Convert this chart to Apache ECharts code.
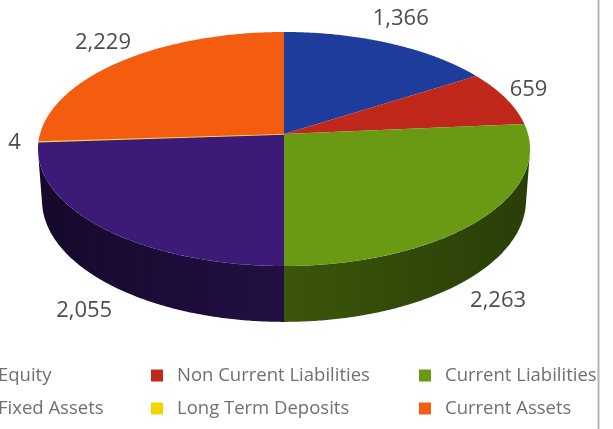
<!DOCTYPE html>
<html>
<head>
<meta charset="utf-8">
<script src="https://cdn.jsdelivr.net/npm/echarts@6/dist/echarts.min.js"></script>
<style>
  html, body { margin: 0; padding: 0; background: #fff; }
  #chart { width: 613px; height: 429px; }
</style>
</head>
<body>
<div id="chart"></div>
<script>
// Balance sheet split (figures in thousands)
const categories = ['Equity', 'Non Current Liabilities', 'Current Liabilities',
                    'Fixed Assets', 'Long Term Deposits', 'Current Assets'];
const values = [1366, 659, 2263, 2055, 4, 2229];
const colors = ['#1e3c9c', '#c0281c', '#6a9a14', '#3c1a78', '#f5d400', '#f45c10'];

// Legend columns (names only)
const legendColumns = [
  ['Equity', 'Fixed Assets'],
  ['Non Current Liabilities', 'Long Term Deposits'],
  ['Current Liabilities', 'Current Assets']
];

// Perspective camera for the tilted pie
const CX = 284, CY = 134;       // projected pie centre
const S = 244;                  // half-width of the disc at centre depth
const K = 0.1452;               // radius / camera distance
const TILT = 28.14 * Math.PI / 180;
const SIN_T = Math.sin(TILT), COS_T = Math.cos(TILT);
const DEPTH = 0.241;            // thickness of the disc relative to radius

function project(theta, rho, eta) {
  const u = rho * Math.sin(theta);
  const v = rho * Math.cos(theta);
  const yc = v * SIN_T + eta * COS_T;
  const z = 1 + K * (v * COS_T - eta * SIN_T);
  return [CX + S * u / z, CY - S * yc / z];
}

const total = values.reduce((a, b) => a + b, 0);
// the outer wall faces the camera where cos(theta) < -K/cos(tilt)
const wallFrom = Math.acos(-K / COS_T);
const wallTo = 2 * Math.PI - wallFrom;

function shade(hex, f) {
  const n = parseInt(hex.slice(1), 16);
  const r = Math.round(((n >> 16) & 255) * f);
  const g = Math.round(((n >> 8) & 255) * f);
  const b = Math.round((n & 255) * f);
  return 'rgb(' + r + ',' + g + ',' + b + ')';
}

function arc(a, b, eta) {
  const pts = [];
  const steps = Math.max(2, Math.ceil((b - a) / (Math.PI / 360)));
  for (let s = 0; s <= steps; s++) {
    pts.push(project(a + (b - a) * s / steps, 1, eta));
  }
  return pts;
}

function makeRenderer(i) {
  const before = values.slice(0, i).reduce((a, b) => a + b, 0);
  return function (params, api) {
    const v = api.value(0);
    const a = before / total * Math.PI * 2;
    const b = (before + v) / total * Math.PI * 2;
    const color = colors[i];
    const children = [];

    // outer wall (front-facing part only)
    const wa = Math.max(a, wallFrom), wb = Math.min(b, wallTo);
    if (wb > wa) {
      const pts = arc(wa, wb, 0).concat(arc(wa, wb, -DEPTH).reverse());
      children.push({
        type: 'polygon',
        z2: 1,
        shape: { points: pts },
        style: {
          fill: {
            type: 'linear', x: CX - S, y: 0, x2: CX + S, y2: 0, global: true,
            colorStops: [
              { offset: 0, color: shade(color, 0.36) },
              { offset: 0.5, color: shade(color, 0.56) },
              { offset: 1, color: shade(color, 0.4) }
            ]
          }
        }
      });
    }

    // top face
    const top = [[CX, CY]].concat(arc(a, b, 0));
    children.push({
      type: 'polygon',
      z2: 10,
      shape: { points: top },
      style: {
        fill: color,
        stroke: v / total < 0.01 ? '#f6dc60' : null,
        lineWidth: v / total < 0.01 ? 1.6 : 0
      }
    });

    // value label outside the rim (below the wall for front slices)
    const mid = (a + b) / 2;
    const front = Math.cos(mid) < -K / COS_T;
    const anchor = project(mid, 1, front ? -DEPTH : 0);
    const dx = front ? 28 : 24, dy = front ? 40 : 28;
    children.push({
      type: 'text',
      z2: 20,
      x: anchor[0] + Math.sin(mid) * dx,
      y: anchor[1] - Math.cos(mid) * dy,
      style: {
        text: v.toLocaleString('en-US'),
        fill: '#4d4d4d',
        font: '22px "Open Sans", sans-serif',
        align: 'center',
        verticalAlign: 'middle'
      }
    });

    return { type: 'group', children: children };
  };
}

const series = categories.map((name, i) => ({
  type: 'custom',
  name: name,
  coordinateSystem: 'none',
  data: [values[i]],
  itemStyle: { color: colors[i] },
  renderItem: makeRenderer(i)
}));

const legendLeft = [-28, 151, 419];
const legend = legendColumns.map((names, c) => ({
  data: names,
  orient: 'vertical',
  left: legendLeft[c],
  top: 366,
  padding: 0,
  itemGap: 14,
  itemWidth: 12,
  itemHeight: 12,
  icon: 'rect',
  selectedMode: false,
  textStyle: {
    fontFamily: '"Open Sans", sans-serif',
    fontSize: 18.5,
    color: '#707070',
    padding: [0, 0, 0, 9]
  }
}));

const chart = echarts.init(document.getElementById('chart'), null, { renderer: 'canvas' });
chart.setOption({
  backgroundColor: '#ffffff',
  animation: false,
  legend: legend,
  series: series,
  graphic: [
    { type: 'rect', z: 100, shape: { x: 597, y: 0, width: 16, height: 429 }, style: { fill: '#ffffff' } },
    { type: 'line', z: 101, shape: { x1: 598.5, y1: 0, x2: 598.5, y2: 429 }, style: { stroke: '#b4b4b4', lineWidth: 2 } }
  ]
});
</script>
</body>
</html>
